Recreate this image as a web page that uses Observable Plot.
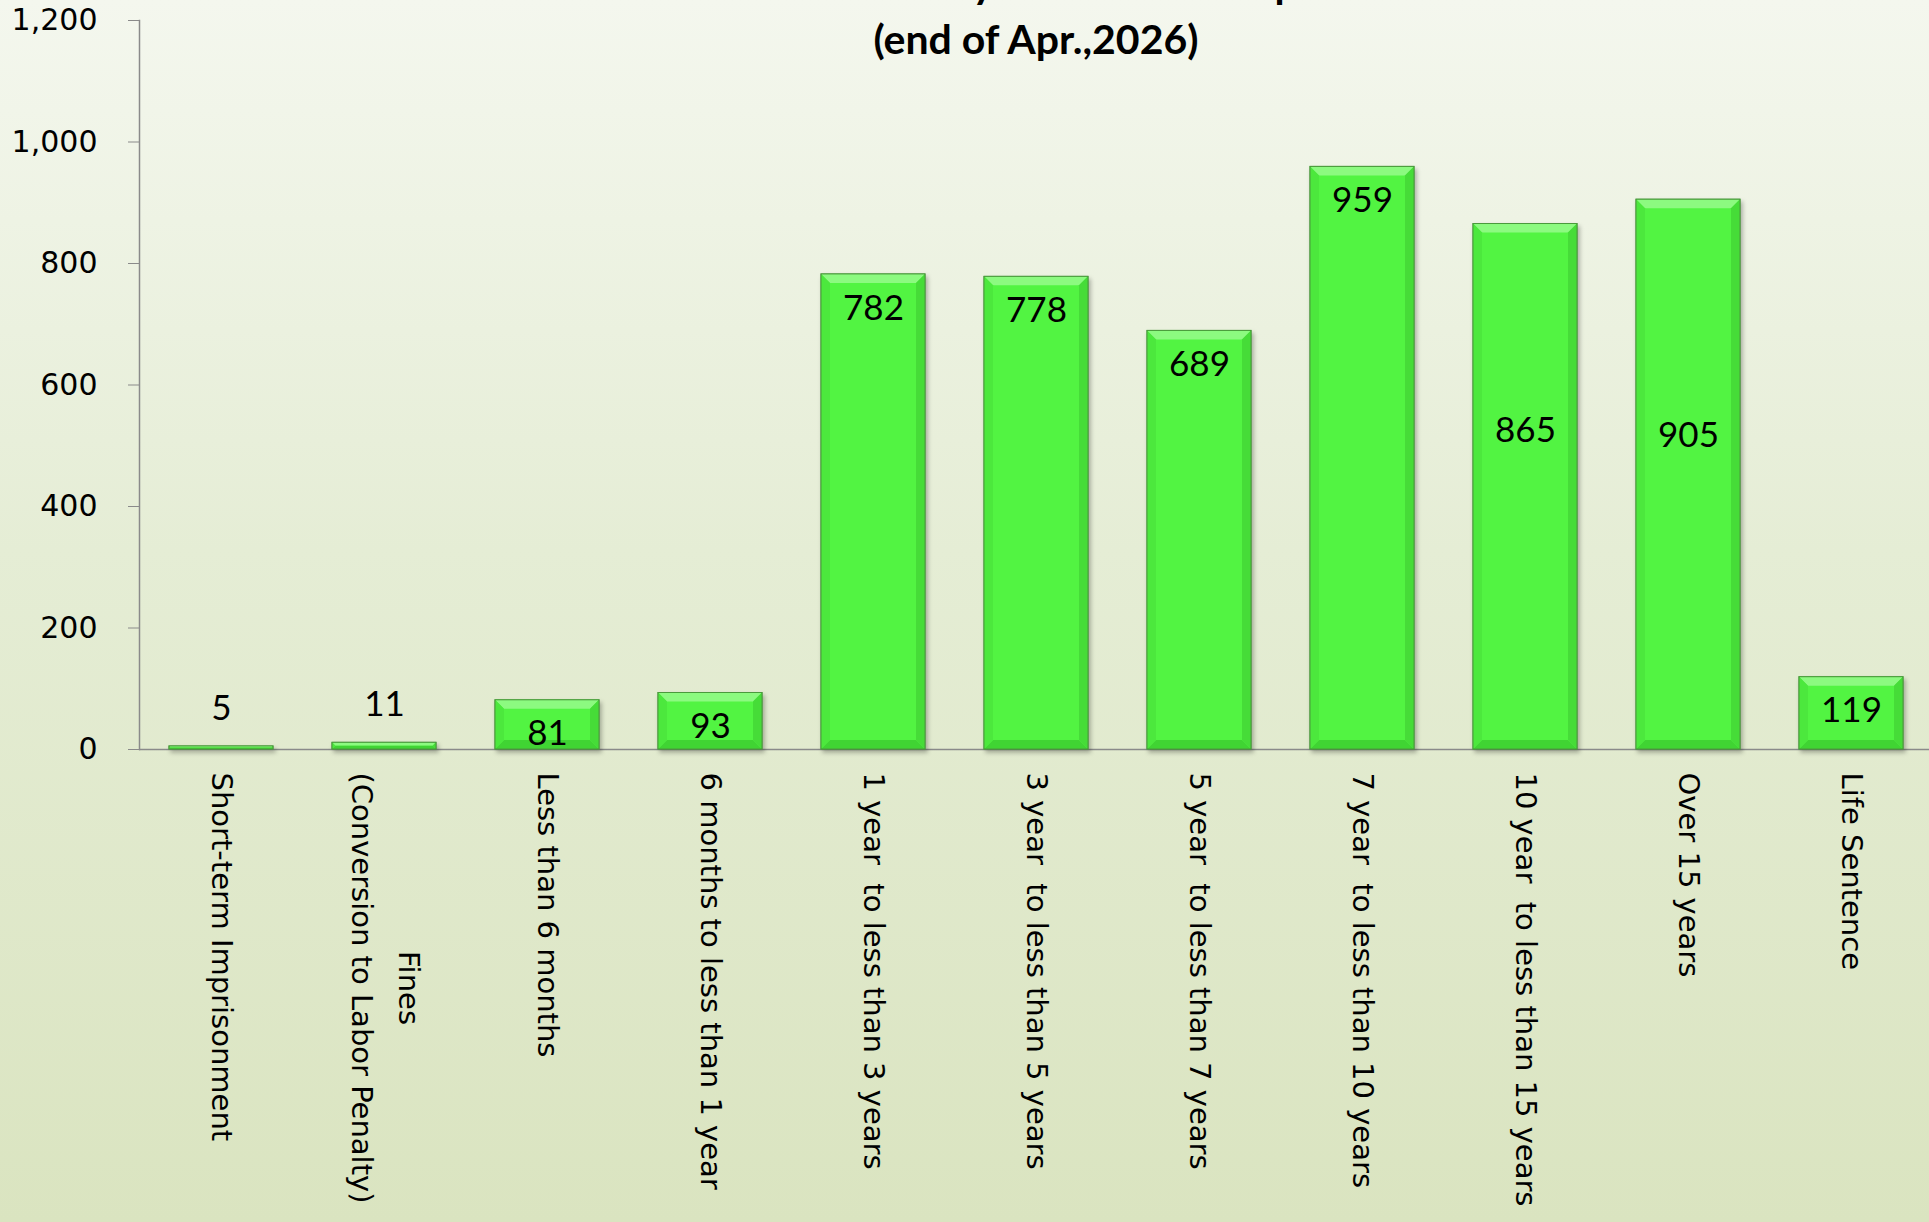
<!DOCTYPE html>
<html><head><meta charset="utf-8">
<script src="https://cdn.jsdelivr.net/npm/d3@7"></script>
<script src="https://cdn.jsdelivr.net/npm/@observablehq/plot@0.6"></script>
<style>
html,body{margin:0;padding:0;overflow:hidden;background:#dbe4c1;}
#wrap{position:relative;width:1929px;height:1222px;background:linear-gradient(to bottom,#f4f7ee 0%,#e5edd5 45%,#dae4c0 100%);overflow:hidden;}
#title{position:absolute;left:436px;width:1200px;top:-45px;text-align:center;font-family:Lato,sans-serif;font-weight:bold;font-size:41px;line-height:56px;color:#000;white-space:nowrap;}
#chart{position:absolute;left:0;top:0;}
svg text{white-space:pre;}
</style></head><body>
<div id="wrap"><div id="title">Number of Inmates by Sentence of Imprisonment<br>(end of Apr.,2026)</div><div id="chart"></div></div>
<script>
const categories = [
  "Short-term Imprisonment",
  "Fines\n(Conversion to Labor Penalty)",
  "Less than 6 months",
  "6 months to less than 1 year",
  "1 year  to less than 3 years",
  "3 year  to less than 5 years",
  "5 year  to less than 7 years",
  "7 year  to less than 10 years",
  "10 year  to less than 15 years",
  "Over 15 years",
  "Life Sentence"
];
const counts = [5, 11, 81, 93, 782, 778, 689, 959, 865, 905, 119];
const yTicks = [0, 200, 400, 600, 800, 1000, 1200];
// labels that sit lower inside their bar (value level where the label is centred)
const movedLabelAt = {"10 year  to less than 15 years": 525, "Over 15 years": 516};

const data = categories.map((c, i) => ({category: c, count: counts[i]}));

const BAR_FILL = "#52f442";
const xFont = 29, yFont = 30, lineStep = 47;
const ctx = document.createElement("canvas").getContext("2d");
ctx.font = `${xFont}px "DejaVu Sans"`;
const xLabelMarks = [];
categories.forEach(cat => {
  const lines = cat.split("\n");
  const widths = lines.map(l => ctx.measureText(l).width);
  const L = Math.max(...widths);
  lines.forEach((line, k) => {
    xLabelMarks.push(Plot.text([cat], {
      x: d => d, frameAnchor: "bottom", text: () => line,
      rotate: 90, textAnchor: "start", lineAnchor: "middle",
      dx: ((lines.length - 1) / 2 - k) * lineStep,
      dy: 23 + (L - widths[k]) / 2,
      fontSize: xFont, fontFamily: "DejaVu Sans", fill: "black"
    }));
  });
});

const labelFont = {fontSize: 35, fontFamily: "Lato", fill: "black"};

const chart = Plot.plot({
  width: 1929, height: 1222,
  marginTop: 20, marginBottom: 473, marginLeft: 139, marginRight: -5,
  style: {background: "transparent", color: "black", overflow: "visible"},
  x: {domain: categories, paddingInner: 0.36, paddingOuter: 0.18, axis: null},
  y: {domain: [0, 1200], axis: null},
  marks: [
    Plot.axisY({ticks: yTicks, tickFormat: d3.format(","), tickSize: 11, tickPadding: 31,
      fontSize: yFont, fontFamily: "DejaVu Sans", stroke: "#8a8a8a", fill: "black", label: null}),
    Plot.frame({anchor: "left", stroke: "#8a8a8a", strokeWidth: 1.5}),
    Plot.ruleY([0], {stroke: "#8a8a8a", strokeWidth: 1.5}),
    Plot.barY(data, {x: "category", y: "count", fill: BAR_FILL, stroke: "#4a9a3c", strokeWidth: 1}),
    Plot.text(data.filter(d => d.count < 20), {x: "category", y: "count", text: d => String(d.count), dy: -38, ...labelFont}),
    Plot.text(data.filter(d => d.count >= 20 && !(d.category in movedLabelAt)), {x: "category", y: "count", text: d => String(d.count), dy: 34, ...labelFont}),
    Plot.text(data.filter(d => d.category in movedLabelAt), {x: "category", y: d => movedLabelAt[d.category], text: d => String(d.count), ...labelFont}),
    ...xLabelMarks
  ]
});

// bevel effect on bars
const ns = "http://www.w3.org/2000/svg";
const rects = Array.from(chart.querySelectorAll("rect")).filter(r => {
  const f = (r.getAttribute("fill") || (r.parentNode && r.parentNode.getAttribute && r.parentNode.getAttribute("fill")) || "").toLowerCase();
  return f === BAR_FILL;
});
const g = rects.length ? rects[0].parentNode : null;
if (g) {
  g.style.filter = "drop-shadow(2px 3px 2px rgba(0,0,0,0.28))";
  rects.forEach(r => {
    const x = +r.getAttribute("x"), y = +r.getAttribute("y");
    const w = +r.getAttribute("width"), h = +r.getAttribute("height");
    const b = Math.min(9, h / 2, w / 2);
    const polys = [
      [[x, y], [x + w, y], [x + w - b, y + b], [x + b, y + b], "#8cfa80"],
      [[x, y + h], [x + w, y + h], [x + w - b, y + h - b], [x + b, y + h - b], "#40d433"],
      [[x, y], [x + b, y + b], [x + b, y + h - b], [x, y + h], "#4ce83d"],
      [[x + w, y], [x + w - b, y + b], [x + w - b, y + h - b], [x + w, y + h], "#46dc38"]
    ];
    polys.forEach(p => {
      const el = document.createElementNS(ns, "polygon");
      el.setAttribute("points", p.slice(0, 4).map(q => q.join(",")).join(" "));
      el.setAttribute("fill", p[4]);
      el.setAttribute("stroke", "none");
      g.appendChild(el);
    });
    const o = r.cloneNode();
    o.setAttribute("fill", "none");
    o.setAttribute("stroke", "#4a9a3c");
    g.appendChild(o);
  });
}
document.getElementById("chart").appendChild(chart);
</script>
</body></html>
